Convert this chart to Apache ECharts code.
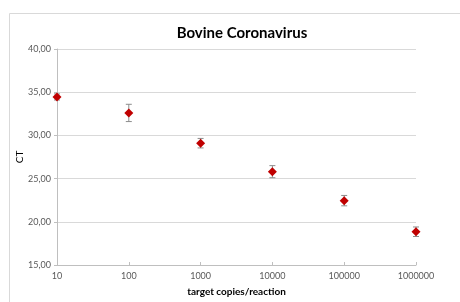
<!DOCTYPE html>
<html>
<head>
<meta charset="utf-8">
<script src="https://cdn.jsdelivr.net/npm/echarts@6/dist/echarts.min.js"></script>
<style>
  html, body { margin: 0; padding: 0; background: #fff; }
  #main { width: 460px; height: 302px; }
</style>
</head>
<body>
<div id="main"></div>
<script>
// target copies per reaction (x, log scale)
const copies = [10, 100, 1000, 10000, 100000, 1000000];
// mean CT values
const ct = [34.45, 32.6, 29.1, 25.8, 22.45, 18.85];
// error (+/-)
const ctErr = [0.35, 1.0, 0.55, 0.7, 0.6, 0.55];

const points = copies.map((c, i) => [c, ct[i]]);
const errData = copies.map((c, i) => [c, ct[i] - ctErr[i], ct[i] + ctErr[i]]);

const labelFont = { color: '#595959', fontSize: 9, fontFamily: 'Lato' };

var myChart = echarts.init(document.getElementById('main'));
myChart.setOption({
    animation: false,
    title: {
        text: 'Bovine Coronavirus',
        left: 237,
        textAlign: 'center',
        top: 21,
        textStyle: { fontFamily: 'Lato', fontWeight: 'bold', fontSize: 15, color: '#000' }
    },
    graphic: [{
        type: 'rect',
        shape: { x: 9.5, y: 13.5, width: 470, height: 300 },
        style: { fill: 'none', stroke: '#d9d9d9', lineWidth: 1 },
        silent: true
    }],
    grid: { left: 57, right: 44, top: 49, bottom: 35 },
    xAxis: {
        type: 'log',
        logBase: 10,
        min: 10,
        max: 1000000,
        name: 'target copies/reaction',
        nameLocation: 'middle',
        nameGap: 22,
        nameMoveOverlap: false,
        nameTextStyle: { fontFamily: 'Lato', fontWeight: 'bold', fontSize: 10, color: '#000' },
        axisLine: { lineStyle: { color: '#bfbfbf' } },
        axisTick: { inside: true, length: 3, lineStyle: { color: '#bfbfbf' } },
        axisLabel: Object.assign({ margin: 7, formatter: v => String(Math.round(v)) }, labelFont),
        splitLine: { show: false },
        minorTick: { show: false }
    },
    yAxis: {
        type: 'value',
        min: 15,
        max: 40,
        interval: 5,
        name: 'CT',
        nameLocation: 'middle',
        nameRotate: 90,
        nameGap: 32,
        nameMoveOverlap: false,
        nameTextStyle: { fontFamily: 'Lato', fontSize: 10, color: '#000' },
        axisLine: { show: true, lineStyle: { color: '#bfbfbf' } },
        axisTick: { show: true, length: 3, lineStyle: { color: '#bfbfbf' } },
        axisLabel: Object.assign({ margin: 6, formatter: v => v.toFixed(2).replace('.', ',') }, labelFont),
        splitLine: { lineStyle: { color: '#d9d9d9' } }
    },
    series: [
        {
            type: 'custom',
            data: errData,
            z: 2,
            renderItem: function (params, api) {
                const x = api.value(0);
                const lo = api.coord([x, api.value(1)]);
                const hi = api.coord([x, api.value(2)]);
                const w = 3;
                const style = { stroke: '#8c8c8c', lineWidth: 1 };
                return {
                    type: 'group',
                    children: [
                        { type: 'line', shape: { x1: lo[0], y1: lo[1], x2: hi[0], y2: hi[1] }, style: style },
                        { type: 'line', shape: { x1: lo[0] - w, y1: lo[1], x2: lo[0] + w, y2: lo[1] }, style: style },
                        { type: 'line', shape: { x1: hi[0] - w, y1: hi[1], x2: hi[0] + w, y2: hi[1] }, style: style }
                    ]
                };
            }
        },
        {
            type: 'scatter',
            data: points,
            z: 3,
            symbol: 'diamond',
            symbolSize: 9,
            itemStyle: { color: '#c00000', opacity: 1 }
        }
    ]
});
</script>
</body>
</html>
